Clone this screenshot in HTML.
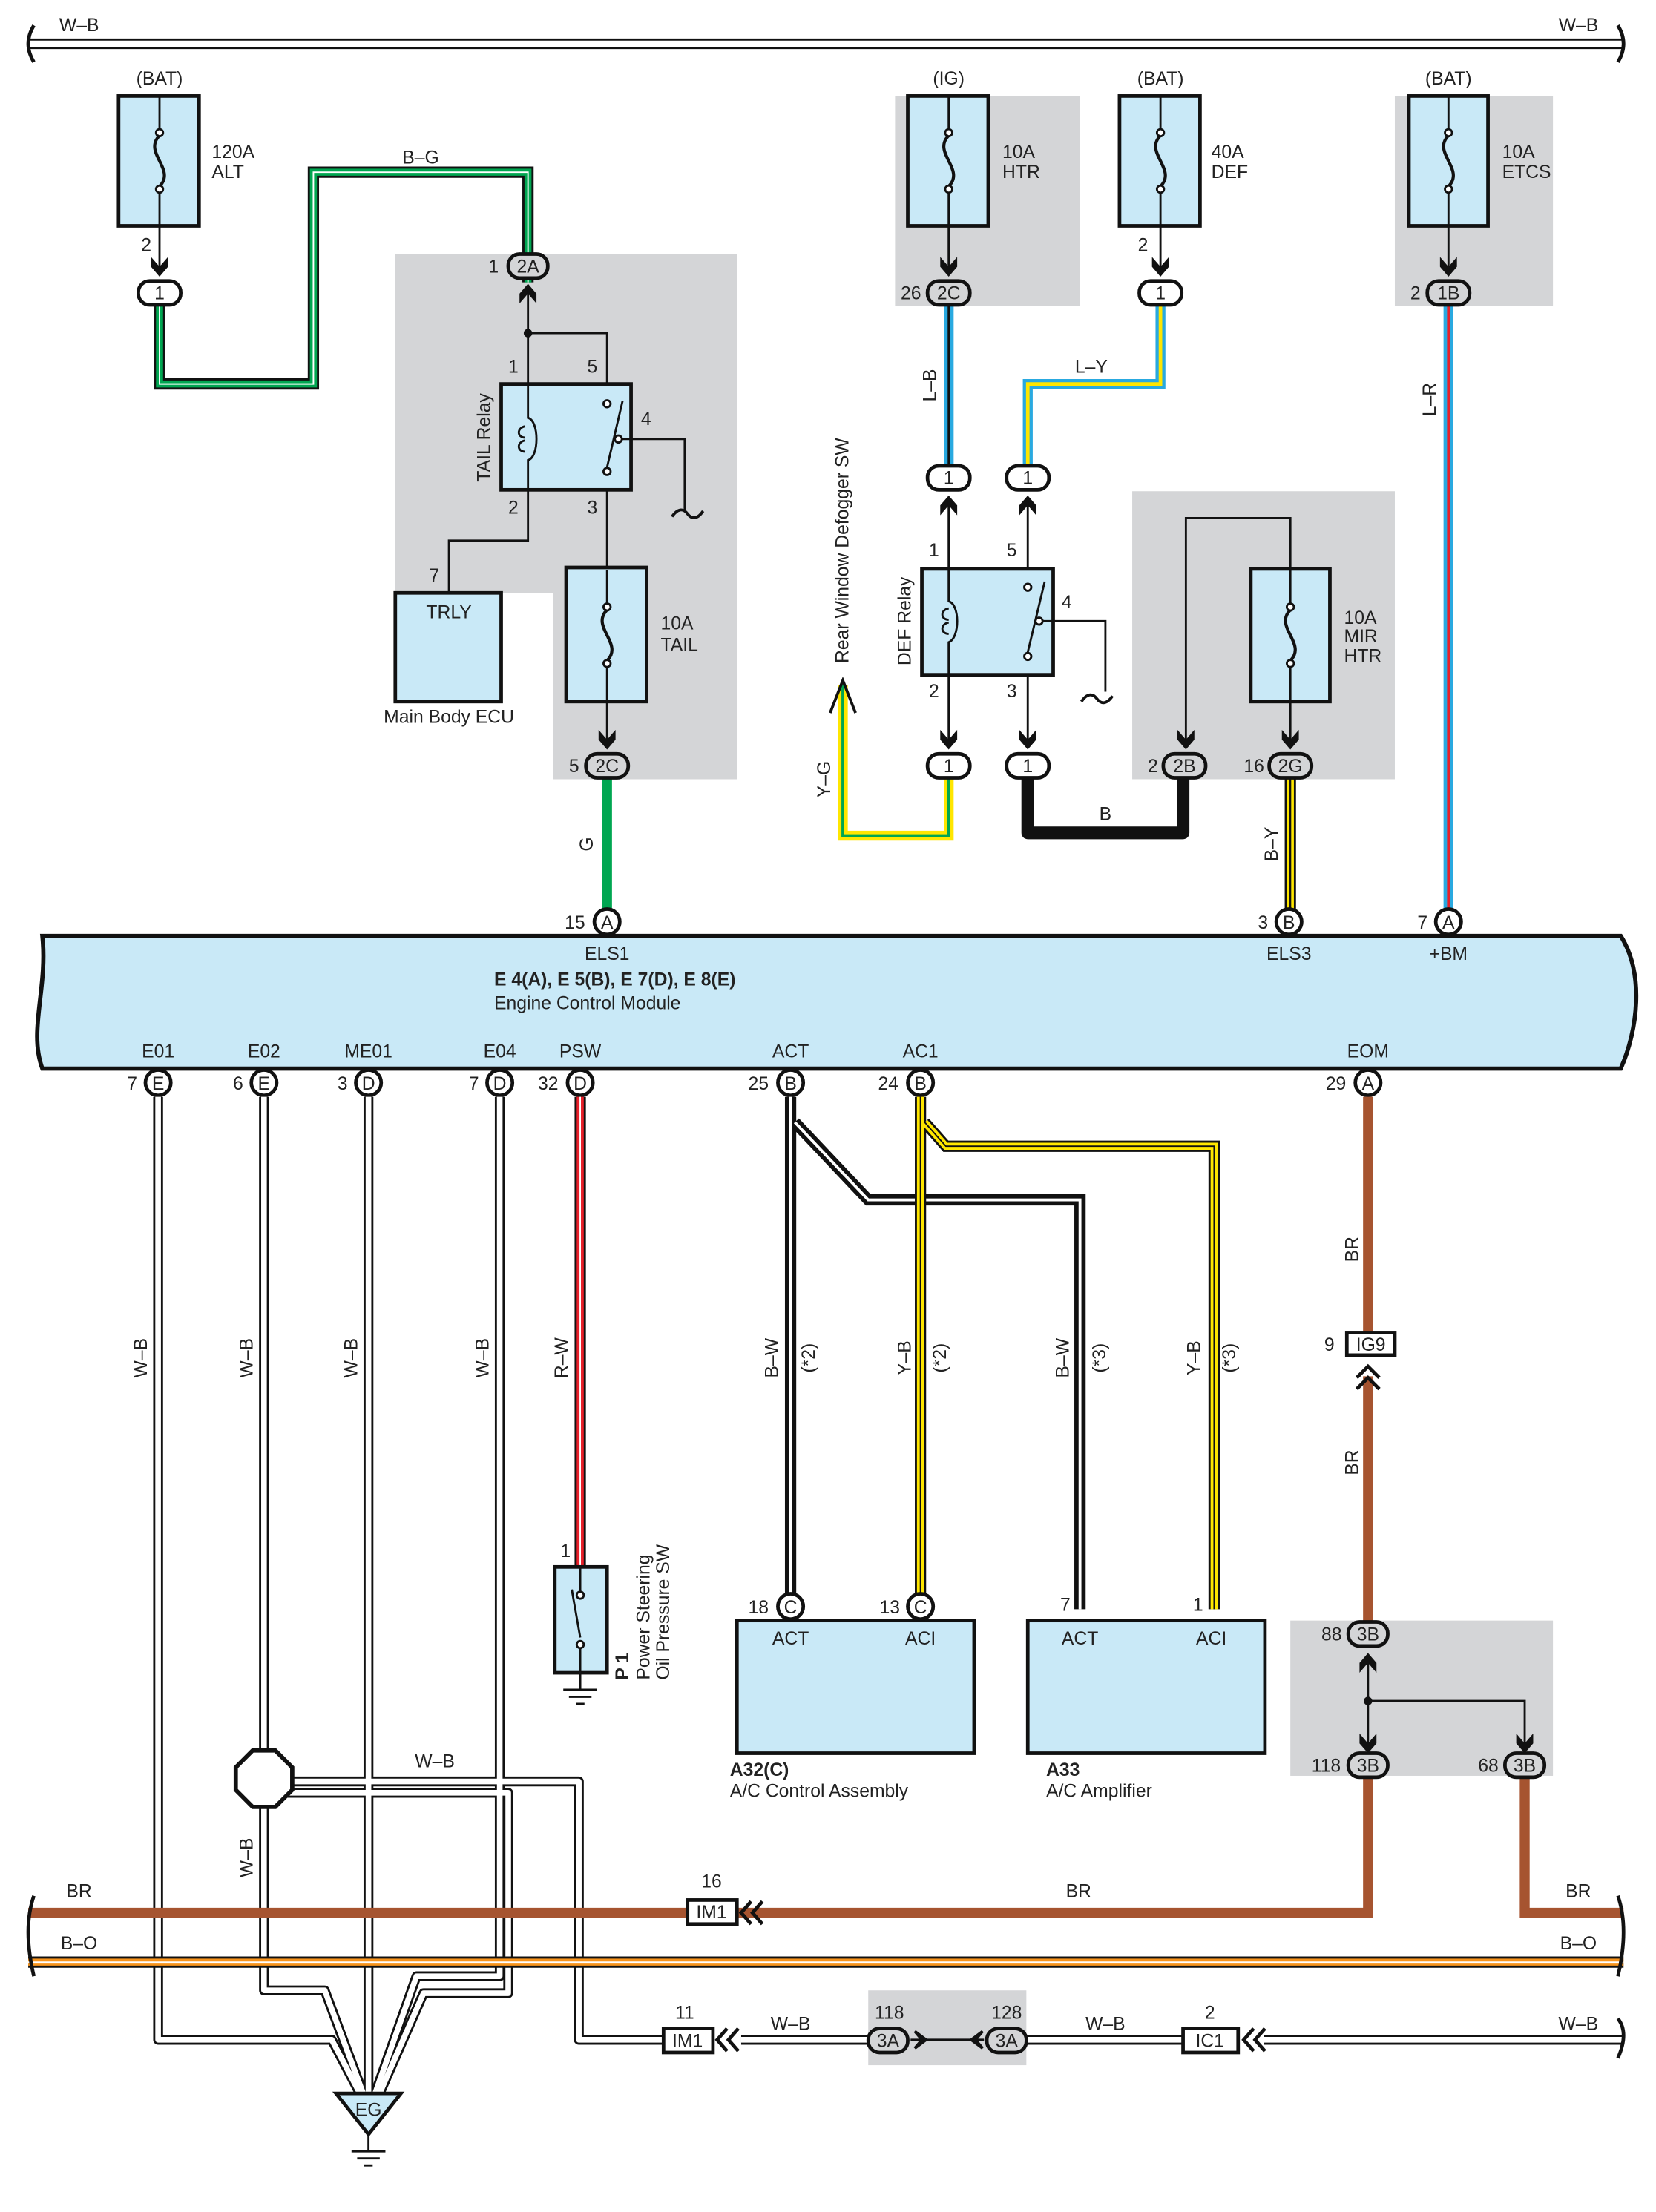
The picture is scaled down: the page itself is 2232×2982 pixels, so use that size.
<!DOCTYPE html>
<html><head><meta charset="utf-8"><style>
html,body{margin:0;padding:0;background:#fff}
svg{display:block}
text{font-family:"Liberation Sans",sans-serif;font-size:13px;fill:#222}
.b{font-weight:bold}
.c{text-anchor:middle}
</style></head><body>
<svg width="2232" height="2982" viewBox="0 0 1173 1567" preserveAspectRatio="none" xmlns="http://www.w3.org/2000/svg">
<defs>
<g id="fuse"><line x1="0" y1="-46" x2="0" y2="-22" stroke="#111" stroke-width="1.5"/><circle cx="0" cy="-20" r="2.5" fill="#fff" stroke="#111" stroke-width="1.5"/><path d="M0,-18 C-12,-6 12,6 0,18" fill="none" stroke="#111" stroke-width="2.2"/><circle cx="0" cy="20" r="2.5" fill="#fff" stroke="#111" stroke-width="1.5"/><line x1="0" y1="22" x2="0" y2="46" stroke="#111" stroke-width="1.5"/></g>
<g id="ar"><path d="M-6,-10 L0,-3 L6,-10 L6,-3 L0,4 L-6,-3Z" fill="#111"/></g>
<g id="gnd"><line x1="0" y1="0" x2="0" y2="12" stroke="#111" stroke-width="1.5"/><line x1="-12" y1="12" x2="12" y2="12" stroke="#111" stroke-width="1.5"/><line x1="-8" y1="17" x2="8" y2="17" stroke="#111" stroke-width="1.5"/><line x1="-3" y1="22" x2="3" y2="22" stroke="#111" stroke-width="1.5"/></g>
</defs>

<path d="M280,180H522V552H392V420H280Z" fill="#d4d5d7"/>
<rect x="634" y="68" width="131" height="149" fill="#d4d5d7"/>
<rect x="988" y="68" width="112" height="149" fill="#d4d5d7"/>
<rect x="802" y="348" width="186" height="204" fill="#d4d5d7"/>
<rect x="914" y="1148" width="186" height="110" fill="#d4d5d7"/>
<rect x="615" y="1410" width="112" height="53" fill="#d4d5d7"/>

<line x1="20" y1="28" x2="1150" y2="28" stroke="#111" stroke-width="1.5"/>
<line x1="20" y1="34" x2="1150" y2="34" stroke="#111" stroke-width="1.5"/>
<path d="M24,18 Q16,31 24,44" fill="none" stroke="#111" stroke-width="2.5"/>
<path d="M1146,18 Q1154,31 1146,44" fill="none" stroke="#111" stroke-width="2.5"/>
<text x="42" y="22">W–B</text><text x="1104" y="22">W–B</text>

<text x="113" y="60" class="c">(BAT)</text>
<rect x="84" y="68" width="57" height="92" fill="#c9e9f7" stroke="#111" stroke-width="2.5"/>
<use href="#fuse" x="113" y="114"/>
<text x="150" y="112">120A</text><text x="150" y="126">ALT</text>
<text x="100" y="178">2</text>
<line x1="113" y1="160" x2="113" y2="195" stroke="#111" stroke-width="1.5"/><use href="#ar" x="113" y="192"/>

<text x="672" y="60" class="c">(IG)</text>
<rect x="643" y="68" width="57" height="92" fill="#c9e9f7" stroke="#111" stroke-width="2.5"/>
<use href="#fuse" x="672" y="114"/>
<text x="710" y="112">10A</text><text x="710" y="126">HTR</text>
<line x1="672" y1="160" x2="672" y2="195" stroke="#111" stroke-width="1.5"/><use href="#ar" x="672" y="192"/>

<text x="822" y="60" class="c">(BAT)</text>
<rect x="793" y="68" width="57" height="92" fill="#c9e9f7" stroke="#111" stroke-width="2.5"/>
<use href="#fuse" x="822" y="114"/>
<text x="858" y="112">40A</text><text x="858" y="126">DEF</text>
<text x="806" y="178">2</text>
<line x1="822" y1="160" x2="822" y2="195" stroke="#111" stroke-width="1.5"/><use href="#ar" x="822" y="192"/>

<text x="1026" y="60" class="c">(BAT)</text>
<rect x="998" y="68" width="56" height="92" fill="#c9e9f7" stroke="#111" stroke-width="2.5"/>
<use href="#fuse" x="1026" y="114"/>
<text x="1064" y="112">10A</text><text x="1064" y="126">ETCS</text>
<line x1="1026" y1="160" x2="1026" y2="195" stroke="#111" stroke-width="1.5"/><use href="#ar" x="1026" y="192"/>

<path d="M113,215V272H222V122H374V200" fill="none" stroke="#111" stroke-width="8"/>
<path d="M113,215V272H222V122H374V200" fill="none" stroke="#00a651" stroke-width="5"/>
<path d="M113,215V272H222V122H374V200" fill="none" stroke="#fff" stroke-width="1"/>
<text x="298" y="116" class="c">B–G</text>

<path d="M672,215V330" stroke="#29a9e0" stroke-width="7"/><path d="M672,215V330" stroke="#111" stroke-width="1.5"/>
<text transform="translate(663,273) rotate(-90)" class="c">L–B</text>
<path d="M822,215V272H728V330" fill="none" stroke="#29a9e0" stroke-width="7"/><path d="M822,215V272H728V330" fill="none" stroke="#ffe600" stroke-width="2.5"/>
<text x="773" y="264" class="c">L–Y</text>
<path d="M1026,215V645" stroke="#29a9e0" stroke-width="7"/><path d="M1026,215V645" stroke="#e8202a" stroke-width="2"/>
<text transform="translate(1017,283) rotate(-90)" class="c">L–R</text>

<use href="#ar" x="374" y="205" transform="rotate(180 374 205)"/>
<line x1="374" y1="205" x2="374" y2="272" stroke="#111" stroke-width="1.5"/>
<circle cx="374" cy="236" r="3" fill="#111"/>
<path d="M374,236H430V272" fill="none" stroke="#111" stroke-width="1.5"/>
<text x="360" y="264">1</text><text x="416" y="264">5</text><text x="454" y="301">4</text><text x="360" y="364">2</text><text x="416" y="364">3</text>
<rect x="355" y="272" width="92" height="75" fill="#c9e9f7" stroke="#111" stroke-width="2.5"/>
<text transform="translate(347,310) rotate(-90)" class="c">TAIL Relay</text>
<path d="M374,272V296 C382,298 382,324 374,326V347" fill="none" stroke="#111" stroke-width="1.5"/>
<path d="M372,302 c-6,1 -6,8 0,8 M372,312 c-6,1 -6,8 0,8" fill="none" stroke="#111" stroke-width="1.5"/>
<circle cx="430" cy="286" r="2.5" fill="#fff" stroke="#111" stroke-width="1.5"/>
<circle cx="438" cy="311" r="2.5" fill="#fff" stroke="#111" stroke-width="1.5"/>
<circle cx="430" cy="334" r="2.5" fill="#fff" stroke="#111" stroke-width="1.5"/>
<line x1="430" y1="331" x2="441" y2="284" stroke="#111" stroke-width="1.5"/>
<path d="M440,311H485V362" fill="none" stroke="#111" stroke-width="1.5"/>
<path d="M476,366 c4,-6 8,-6 11,-2 s7,4 11,-2" fill="none" stroke="#111" stroke-width="2"/>
<path d="M374,347V383H318V420" fill="none" stroke="#111" stroke-width="1.5"/>
<text x="304" y="412">7</text>
<rect x="280" y="420" width="75" height="77" fill="#c9e9f7" stroke="#111" stroke-width="2.5"/>
<text x="318" y="438" class="c">TRLY</text>
<text x="318" y="512" class="c">Main Body ECU</text>
<line x1="430" y1="347" x2="430" y2="402" stroke="#111" stroke-width="1.5"/>
<rect x="401" y="402" width="57" height="95" fill="#c9e9f7" stroke="#111" stroke-width="2.5"/>
<use href="#fuse" x="430" y="450"/>
<text x="468" y="446">10A</text><text x="468" y="461">TAIL</text>
<line x1="430" y1="497" x2="430" y2="530" stroke="#111" stroke-width="1.5"/><use href="#ar" x="430" y="527"/>
<path d="M430,552V645" stroke="#00a651" stroke-width="7"/>
<text transform="translate(420,598) rotate(-90)" class="c">G</text>

<use href="#ar" x="672" y="355" transform="rotate(180 672 355)"/>
<use href="#ar" x="728" y="355" transform="rotate(180 728 355)"/>
<line x1="672" y1="355" x2="672" y2="530" stroke="#111" stroke-width="1.5"/>
<line x1="728" y1="355" x2="728" y2="530" stroke="#111" stroke-width="1.5"/>
<text x="658" y="394">1</text><text x="713" y="394">5</text><text x="752" y="431">4</text><text x="658" y="494">2</text><text x="713" y="494">3</text>
<rect x="653" y="403" width="93" height="75" fill="#c9e9f7" stroke="#111" stroke-width="2.5"/>
<path d="M672,403V426 C680,428 680,452 672,455V478" fill="none" stroke="#111" stroke-width="1.5"/>
<path d="M672,431 c-6,1 -6,8 0,8 M672,441 c-6,1 -6,8 0,8" fill="none" stroke="#111" stroke-width="1.5"/>
<circle cx="728" cy="416" r="2.5" fill="#fff" stroke="#111" stroke-width="1.5"/>
<circle cx="736" cy="440" r="2.5" fill="#fff" stroke="#111" stroke-width="1.5"/>
<circle cx="728" cy="465" r="2.5" fill="#fff" stroke="#111" stroke-width="1.5"/>
<line x1="728" y1="462" x2="740" y2="412" stroke="#111" stroke-width="1.5"/>
<path d="M738,440H783V490" fill="none" stroke="#111" stroke-width="1.5"/>
<path d="M766,497 c4,-6 8,-6 11,-2 s7,4 11,-2" fill="none" stroke="#111" stroke-width="2"/>
<text transform="translate(645,440) rotate(-90)" class="c">DEF Relay</text>
<text transform="translate(601,390) rotate(-90)" class="c">Rear Window Defogger SW</text>
<use href="#ar" x="672" y="527"/><use href="#ar" x="728" y="527"/>
<path d="M672,552V592H597V485" fill="none" stroke="#ffe600" stroke-width="7"/>
<path d="M672,552V592H597V485" fill="none" stroke="#00a651" stroke-width="2"/>
<path d="M588,505L597,482L606,505" fill="none" stroke="#111" stroke-width="2"/>
<text transform="translate(588,552) rotate(-90)" class="c">Y–G</text>
<path d="M728,552V590H838V552" fill="none" stroke="#111" stroke-width="9" stroke-linejoin="round"/>
<text x="783" y="581" class="c">B</text>
<path d="M914,403V367H840V530" fill="none" stroke="#111" stroke-width="1.5"/>
<rect x="886" y="403" width="56" height="94" fill="#c9e9f7" stroke="#111" stroke-width="2.5"/>
<use href="#fuse" x="914" y="450"/>
<text x="952" y="442">10A</text><text x="952" y="455">MIR</text><text x="952" y="469">HTR</text>
<line x1="914" y1="497" x2="914" y2="530" stroke="#111" stroke-width="1.5"/>
<use href="#ar" x="840" y="527"/><use href="#ar" x="914" y="527"/>
<path d="M914,552V645" stroke="#111" stroke-width="8"/><path d="M914,552V645" stroke="#ffe600" stroke-width="5"/><path d="M914,552V645" stroke="#111" stroke-width="1.2"/>
<text transform="translate(905,598) rotate(-90)" class="c">B–Y</text>

<g stroke="#111" stroke-width="2.5">
<rect x="98" y="199" width="30" height="17" rx="8" fill="#fff"/>
<rect x="360" y="180" width="28" height="17" rx="8" fill="#d4d5d7"/>
<rect x="657" y="199" width="30" height="17" rx="8" fill="#d4d5d7"/>
<rect x="807" y="199" width="30" height="17" rx="8" fill="#fff"/>
<rect x="1011" y="199" width="30" height="17" rx="8" fill="#d4d5d7"/>
<rect x="657" y="330" width="30" height="17" rx="8" fill="#fff"/>
<rect x="713" y="330" width="30" height="17" rx="8" fill="#fff"/>
<rect x="415" y="534" width="30" height="17" rx="8" fill="#d4d5d7"/>
<rect x="657" y="534" width="30" height="17" rx="8" fill="#fff"/>
<rect x="713" y="534" width="30" height="17" rx="8" fill="#fff"/>
<rect x="824" y="534" width="30" height="17" rx="8" fill="#d4d5d7"/>
<rect x="899" y="534" width="30" height="17" rx="8" fill="#d4d5d7"/>
</g>
<text x="113" y="212" class="c">1</text><text x="374" y="193" class="c">2A</text><text x="346" y="193">1</text>
<text x="672" y="212" class="c">2C</text><text x="638" y="212">26</text>
<text x="822" y="212" class="c">1</text>
<text x="1026" y="212" class="c">1B</text><text x="999" y="212">2</text>
<text x="672" y="343" class="c">1</text><text x="728" y="343" class="c">1</text>
<text x="430" y="547" class="c">2C</text><text x="403" y="547">5</text>
<text x="672" y="547" class="c">1</text><text x="728" y="547" class="c">1</text>
<text x="839" y="547" class="c">2B</text><text x="813" y="547">2</text>
<text x="914" y="547" class="c">2G</text><text x="881" y="547">16</text>

<path d="M30,663H1148 C1165,690 1160,730 1148,757H30 C20,730 34,700 30,663Z" fill="#c9e9f7" stroke="#111" stroke-width="3"/>
<g stroke="#111" stroke-width="2.5" fill="#fff">
<circle cx="430" cy="653" r="9"/><circle cx="913" cy="653" r="9"/><circle cx="1026" cy="653" r="9"/>
<circle cx="112" cy="767" r="9"/><circle cx="187" cy="767" r="9"/><circle cx="261" cy="767" r="9"/><circle cx="354" cy="767" r="9"/><circle cx="411" cy="767" r="9"/><circle cx="560" cy="767" r="9"/><circle cx="652" cy="767" r="9"/><circle cx="969" cy="767" r="9"/>
</g>
<text x="430" y="658" class="c">A</text><text x="400" y="658">15</text>
<text x="913" y="658" class="c">B</text><text x="891" y="658">3</text>
<text x="1026" y="658" class="c">A</text><text x="1004" y="658">7</text>
<text x="430" y="680" class="c">ELS1</text><text x="913" y="680" class="c">ELS3</text><text x="1026" y="680" class="c">+BM</text>
<text x="350" y="698" class="b">E 4(A), E 5(B), E 7(D), E 8(E)</text>
<text x="350" y="715">Engine Control Module</text>
<text x="112" y="749" class="c">E01</text><text x="187" y="749" class="c">E02</text><text x="261" y="749" class="c">ME01</text><text x="354" y="749" class="c">E04</text><text x="411" y="749" class="c">PSW</text><text x="560" y="749" class="c">ACT</text><text x="652" y="749" class="c">AC1</text><text x="969" y="749" class="c">EOM</text>
<text x="112" y="772" class="c">E</text><text x="90" y="772">7</text>
<text x="187" y="772" class="c">E</text><text x="165" y="772">6</text>
<text x="261" y="772" class="c">D</text><text x="239" y="772">3</text>
<text x="354" y="772" class="c">D</text><text x="332" y="772">7</text>
<text x="411" y="772" class="c">D</text><text x="381" y="772">32</text>
<text x="560" y="772" class="c">B</text><text x="530" y="772">25</text>
<text x="652" y="772" class="c">B</text><text x="622" y="772">24</text>
<text x="969" y="772" class="c">A</text><text x="939" y="772">29</text>

<g fill="none" stroke-linejoin="round">
<path id="w1" d="M112,777V1445H235L256,1485"/>
<path id="w2" d="M187,777V1410H230L258,1485"/>
<path id="w3" d="M261,777V1485"/>
<path id="w4" d="M354,777V1400H295L265,1485"/>
<path id="w5" d="M187,1262H410V1445H470"/>
<path id="w6" d="M187,1270H360V1412H300L268,1485"/>
</g>
<g fill="none" stroke-linejoin="round" stroke="#111" stroke-width="7">
<use href="#w1"/><use href="#w2"/><use href="#w3"/><use href="#w4"/><use href="#w5"/><use href="#w6"/></g>
<g fill="none" stroke-linejoin="round" stroke="#fff" stroke-width="4">
<use href="#w1"/><use href="#w2"/><use href="#w3"/><use href="#w4"/><use href="#w5"/><use href="#w6"/></g>
<polygon points="179,1240 195,1240 207,1252 207,1268 195,1280 179,1280 167,1268 167,1252" fill="#fff" stroke="#111" stroke-width="3"/>
<text transform="translate(104,962) rotate(-90)" class="c">W–B</text>
<text transform="translate(179,962) rotate(-90)" class="c">W–B</text>
<text transform="translate(253,962) rotate(-90)" class="c">W–B</text>
<text transform="translate(346,962) rotate(-90)" class="c">W–B</text>
<text transform="translate(179,1316) rotate(-90)" class="c">W–B</text>
<text x="308" y="1252" class="c">W–B</text>
<polygon points="238,1483 284,1483 261,1512" fill="#c9e9f7" stroke="#111" stroke-width="2.5"/>
<text x="261" y="1499" class="c">EG</text>
<use href="#gnd" x="261" y="1512"/>

<path d="M411,777V1110" stroke="#111" stroke-width="8"/><path d="M411,777V1110" stroke="#e8202a" stroke-width="5"/><path d="M411,777V1110" stroke="#fff" stroke-width="1"/>
<text transform="translate(402,962) rotate(-90)" class="c">R–W</text>
<text x="397" y="1103">1</text>
<rect x="393" y="1110" width="37" height="75" fill="#c9e9f7" stroke="#111" stroke-width="2.5"/>
<line x1="411" y1="1110" x2="411" y2="1128" stroke="#111" stroke-width="1.5"/>
<circle cx="411" cy="1130" r="2.5" fill="#fff" stroke="#111" stroke-width="1.5"/>
<line x1="411" y1="1160" x2="405" y2="1126" stroke="#111" stroke-width="1.5"/>
<circle cx="411" cy="1165" r="2.5" fill="#fff" stroke="#111" stroke-width="1.5"/>
<line x1="411" y1="1167" x2="411" y2="1185" stroke="#111" stroke-width="1.5"/>
<use href="#gnd" x="411" y="1185"/><line x1="411" y1="1185" x2="411" y2="1197" stroke="#111" stroke-width="1.5"/>
<text transform="translate(445,1190) rotate(-90)" class="b">P 1</text>
<text transform="translate(460,1190) rotate(-90)">Power Steering</text>
<text transform="translate(474,1190) rotate(-90)">Oil Pressure SW</text>

<path d="M560,777V1130M563,795L615,850H765V1140" fill="none" stroke="#111" stroke-width="8"/>
<path d="M560,777V1130M563,795L615,850H765V1140" fill="none" stroke="#fff" stroke-width="2"/>
<path d="M652,777V1130M655,795L670,812H860V1140" fill="none" stroke="#111" stroke-width="8"/>
<path d="M652,777V1130M655,795L670,812H860V1140" fill="none" stroke="#ffe600" stroke-width="5"/>
<path d="M652,777V1130M655,795L670,812H860V1140" fill="none" stroke="#111" stroke-width="1"/>
<text transform="translate(551,962) rotate(-90)" class="c">B–W</text><text transform="translate(577,962) rotate(-90)" class="c">(*2)</text>
<text transform="translate(645,962) rotate(-90)" class="c">Y–B</text><text transform="translate(670,962) rotate(-90)" class="c">(*2)</text>
<text transform="translate(757,962) rotate(-90)" class="c">B–W</text><text transform="translate(783,962) rotate(-90)" class="c">(*3)</text>
<text transform="translate(850,962) rotate(-90)" class="c">Y–B</text><text transform="translate(875,962) rotate(-90)" class="c">(*3)</text>
<rect x="522" y="1148" width="168" height="94" fill="#c9e9f7" stroke="#111" stroke-width="2.5"/>
<rect x="728" y="1148" width="168" height="94" fill="#c9e9f7" stroke="#111" stroke-width="2.5"/>
<circle cx="560" cy="1138" r="9" fill="#fff" stroke="#111" stroke-width="2.5"/><circle cx="652" cy="1138" r="9" fill="#fff" stroke="#111" stroke-width="2.5"/>
<text x="560" y="1143" class="c">C</text><text x="530" y="1143">18</text>
<text x="652" y="1143" class="c">C</text><text x="623" y="1143">13</text>
<text x="751" y="1141">7</text><text x="845" y="1141">1</text>
<text x="560" y="1165" class="c">ACT</text><text x="652" y="1165" class="c">ACI</text>
<text x="765" y="1165" class="c">ACT</text><text x="858" y="1165" class="c">ACI</text>
<text x="517" y="1258" class="b">A32(C)</text><text x="517" y="1273">A/C Control Assembly</text>
<text x="741" y="1258" class="b">A33</text><text x="741" y="1273">A/C Amplifier</text>

<path d="M969,777V944M969,975V1148" stroke="#a65430" stroke-width="7"/>
<text transform="translate(962,885) rotate(-90)" class="c">BR</text>
<text transform="translate(962,1036) rotate(-90)" class="c">BR</text>
<rect x="954" y="944" width="34" height="16" fill="#fff" stroke="#111" stroke-width="2.5"/>
<text x="971" y="957" class="c">IG9</text><text x="938" y="957">9</text>
<path d="M961,976L969,968L977,976M961,984L969,976L977,984" fill="none" stroke="#111" stroke-width="2.5"/>
<use href="#ar" x="969" y="1175" transform="rotate(180 969 1175)"/>
<path d="M969,1175V1240M969,1205H1080V1240" fill="none" stroke="#111" stroke-width="1.5"/>
<circle cx="969" cy="1205" r="3" fill="#111"/>
<use href="#ar" x="969" y="1238"/><use href="#ar" x="1080" y="1238"/>
<path d="M969,1260V1355H20" fill="none" stroke="#a65430" stroke-width="7"/>
<path d="M1080,1260V1355H1150" fill="none" stroke="#a65430" stroke-width="7"/>
<g stroke="#111" stroke-width="2.5" fill="#d4d5d7">
<rect x="955" y="1149" width="28" height="17" rx="8"/><rect x="955" y="1242" width="28" height="17" rx="8"/><rect x="1066" y="1242" width="28" height="17" rx="8"/></g>
<text x="969" y="1162" class="c">3B</text><text x="936" y="1162">88</text>
<text x="969" y="1255" class="c">3B</text><text x="929" y="1255">118</text>
<text x="1080" y="1255" class="c">3B</text><text x="1047" y="1255">68</text>

<rect x="487" y="1346" width="35" height="17" fill="#fff" stroke="#111" stroke-width="2.5"/>
<text x="504" y="1359" class="c">IM1</text><text x="504" y="1337" class="c">16</text>
<path d="M532,1347L525,1355L532,1363M540,1347L533,1355L540,1363" fill="none" stroke="#111" stroke-width="2.5"/>
<text x="56" y="1344" class="c">BR</text><text x="764" y="1344" class="c">BR</text><text x="1118" y="1344" class="c">BR</text>
<path d="M20,1390H1150" stroke="#111" stroke-width="8"/><path d="M20,1390H1150" stroke="#f7941d" stroke-width="5"/><path d="M20,1390H1150" stroke="#fff" stroke-width="1"/>
<text x="56" y="1381" class="c">B–O</text><text x="1118" y="1381" class="c">B–O</text>
<path d="M24,1343 Q16,1366 24,1400" fill="none" stroke="#111" stroke-width="2.5"/>
<path d="M1146,1343 Q1154,1366 1146,1400" fill="none" stroke="#111" stroke-width="2.5"/>
<path d="M525,1445H615M727,1445H838M895,1445H1150" fill="none" stroke="#111" stroke-width="7"/>
<path d="M525,1445H615M727,1445H838M895,1445H1150" fill="none" stroke="#fff" stroke-width="4"/>
<path d="M1146,1430 Q1154,1440 1146,1458" fill="none" stroke="#111" stroke-width="2.5"/>
<rect x="470" y="1437" width="35" height="17" fill="#fff" stroke="#111" stroke-width="2.5"/>
<text x="487" y="1450" class="c">IM1</text><text x="485" y="1430" class="c">11</text>
<path d="M515,1437L508,1445L515,1453M523,1437L516,1445L523,1453" fill="none" stroke="#111" stroke-width="2.5"/>
<text x="560" y="1438" class="c">W–B</text><text x="783" y="1438" class="c">W–B</text><text x="1118" y="1438" class="c">W–B</text>
<rect x="615" y="1437" width="28" height="17" rx="8" fill="#d4d5d7" stroke="#111" stroke-width="2.5"/>
<rect x="699" y="1437" width="28" height="17" rx="8" fill="#d4d5d7" stroke="#111" stroke-width="2.5"/>
<text x="629" y="1450" class="c">3A</text><text x="630" y="1430" class="c">118</text>
<text x="713" y="1450" class="c">3A</text><text x="713" y="1430" class="c">128</text>
<path d="M645,1445H697" stroke="#111" stroke-width="1.5"/>
<path d="M648,1439L656,1445L648,1451L653,1445Z M696,1439L688,1445L696,1451L691,1445Z" fill="#111" stroke="#111" stroke-width="2"/>
<rect x="838" y="1437" width="39" height="17" fill="#fff" stroke="#111" stroke-width="2.5"/>
<text x="857" y="1450" class="c">IC1</text><text x="857" y="1430" class="c">2</text>
<path d="M888,1437L881,1445L888,1453M896,1437L889,1445L896,1453" fill="none" stroke="#111" stroke-width="2.5"/>
</svg>
</body></html>
